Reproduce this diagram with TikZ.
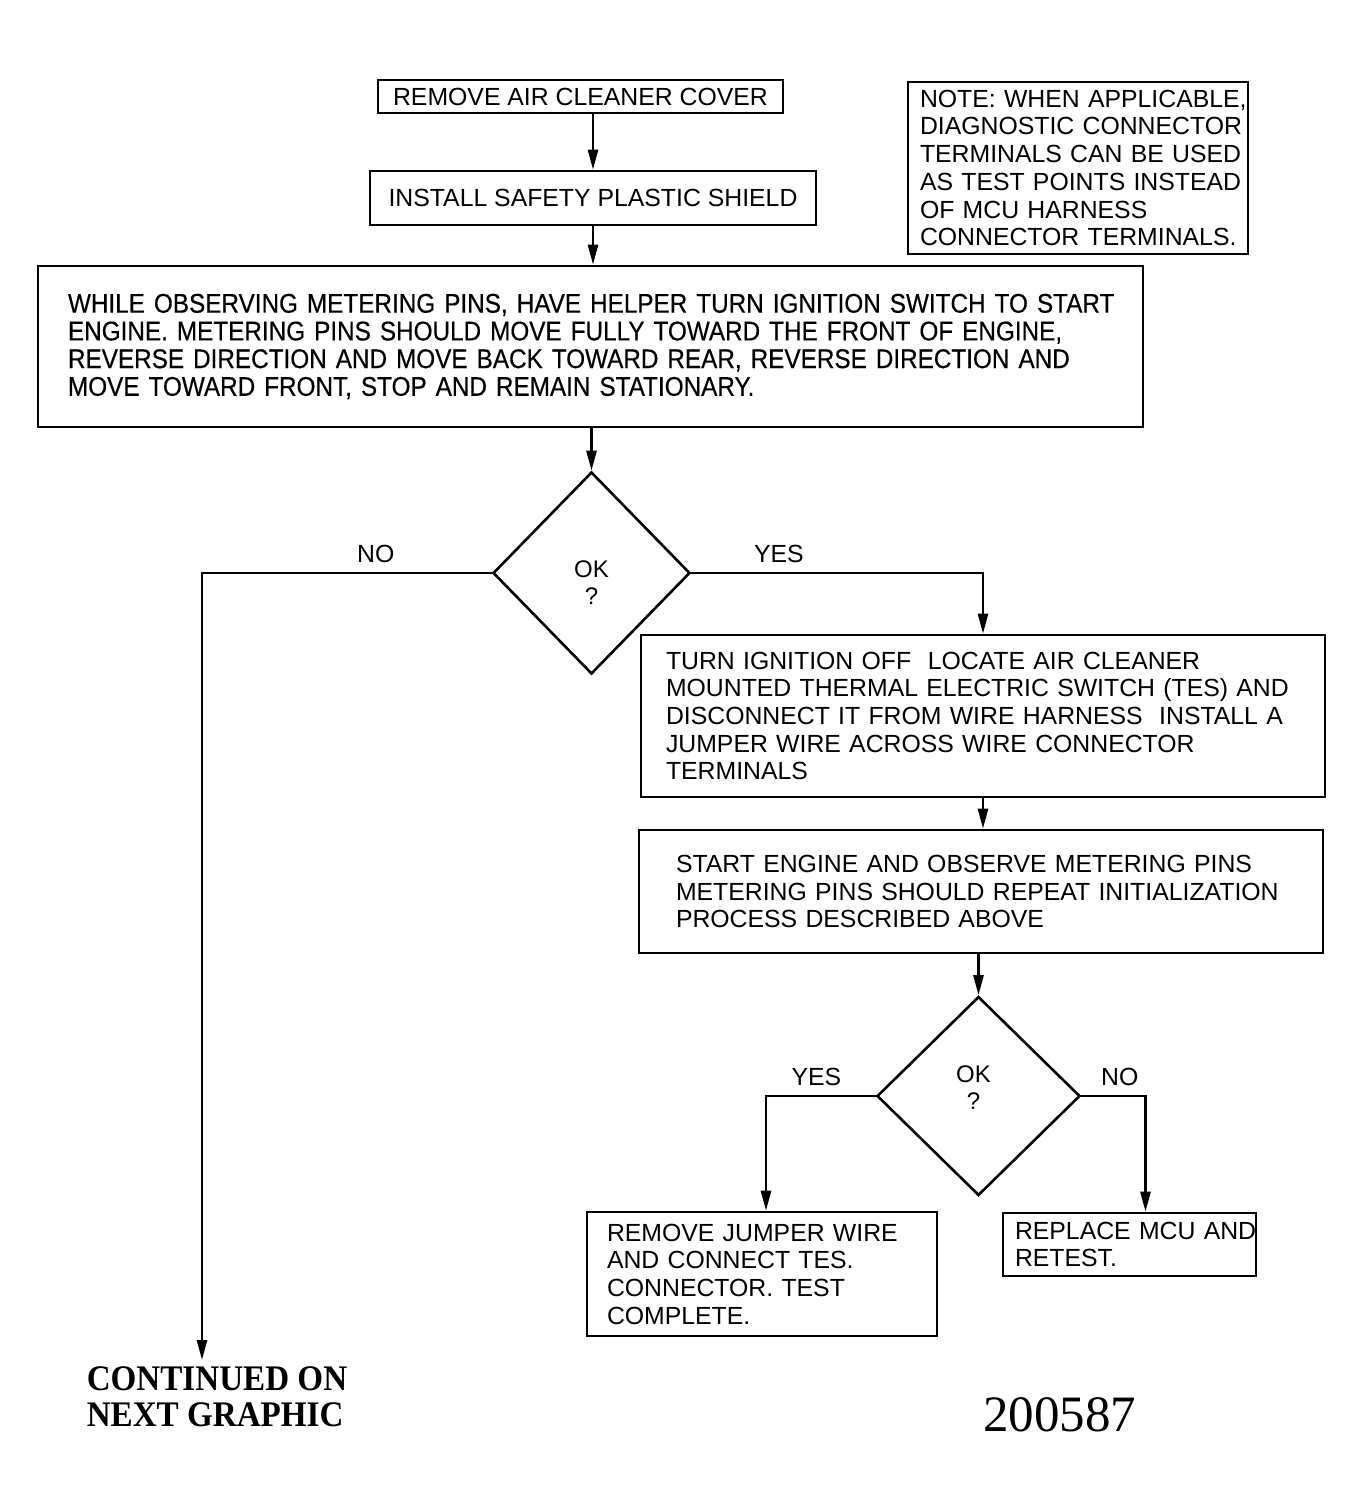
\documentclass[tikz,border=0pt]{standalone}
\usepackage{fontspec}
\setmainfont{Liberation Sans}
\newfontfamily\serifnote{Liberation Serif}
\newfontfamily\serifbold[FakeStretch=0.92]{Liberation Serif Bold}
\newfontfamily\condfont[FakeStretch=0.9,FakeBold=0.4]{Liberation Sans}
\usetikzlibrary{shapes.geometric,arrows.meta}
\newcommand\oktext[1]{\raisebox{#1}[\height][\depth]{\shortstack{OK\\[2pt]?}}}
\begin{document}
\begin{tikzpicture}[x=0.5pt,y=-0.5pt,
  box/.style={draw, line width=1.3pt, rectangle, inner ysep=0pt, align=left,
    font=\fontsize{12.4}{13.85}\selectfont},
  cbox/.style={draw, line width=1.3pt, rectangle, inner sep=0pt, align=center,
    font=\fontsize{12.4}{13.85}\selectfont},
  dec/.style={draw, diamond, line width=1.3pt, inner sep=0pt, align=center,
    font=\fontsize{12}{12.5}\selectfont},
  arr/.style={line width=1.3pt, -{Triangle[length=10pt,width=5pt]}},
  lbl/.style={font=\fontsize{12.4}{13}\selectfont}
]
\useasboundingbox (0,0) rectangle (1364,1506);

\node[cbox, minimum width=202.5pt, minimum height=16.5pt] (b1) at (580.5,96.5) {REMOVE AIR CLEANER COVER};
\node[cbox, minimum width=223pt, minimum height=27pt] (b2) at (593,198) {INSTALL SAFETY PLASTIC SHIELD};

\node[box, font=\condfont\fontsize{13.5}{13.85}\selectfont, minimum height=80.5pt, inner xsep=15pt, text width=522.5pt] (b3) at (590.5,346.5)
{\mbox{WHILE OBSERVING METERING PINS, HAVE HELPER TURN IGNITION SWITCH TO START}\\
\mbox{ENGINE. METERING PINS SHOULD MOVE FULLY TOWARD THE FRONT OF ENGINE,}\\
\mbox{REVERSE DIRECTION AND MOVE BACK TOWARD REAR, REVERSE DIRECTION AND}\\
\mbox{MOVE TOWARD FRONT, STOP AND REMAIN STATIONARY.}};

\node[box, minimum height=86pt, inner xsep=6pt, text width=158pt] (note) at (1078,168)
{\mbox{NOTE: WHEN APPLICABLE,}\\
\mbox{DIAGNOSTIC CONNECTOR}\\
\mbox{TERMINALS CAN BE USED}\\
\mbox{AS TEST POINTS INSTEAD}\\
\mbox{OF MCU HARNESS}\\
\mbox{CONNECTOR TERMINALS.}};

\node[dec, minimum width=98.5pt, minimum height=101pt] (d1) at (591.5,573) {\oktext{-5pt}};

\node[box, minimum height=81pt, inner xsep=12.5pt, text width=317pt] (b4) at (983,716)
{\mbox{TURN IGNITION OFF\ \ LOCATE AIR CLEANER}\\
\mbox{MOUNTED THERMAL ELECTRIC SWITCH (TES) AND}\\
\mbox{DISCONNECT IT FROM WIRE HARNESS\ \ INSTALL A}\\
\mbox{JUMPER WIRE ACROSS WIRE CONNECTOR}\\
\mbox{TERMINALS}};

\node[box, minimum height=61.5pt, inner xsep=18.5pt, text width=305pt] (b5) at (981,891.5)
{\mbox{START ENGINE AND OBSERVE METERING PINS}\\
\mbox{METERING PINS SHOULD REPEAT INITIALIZATION}\\
\mbox{PROCESS DESCRIBED ABOVE}};

\node[dec, minimum width=101.5pt, minimum height=99.5pt] (d2) at (978.5,1096) {\hspace*{-5pt}\oktext{4pt}};

\node[box, minimum height=62pt, inner xsep=10pt, text width=155pt] (b6) at (762,1274)
{\mbox{REMOVE JUMPER WIRE}\\
\mbox{AND CONNECT TES.}\\
\mbox{CONNECTOR. TEST}\\
\mbox{COMPLETE.}};

\node[box, minimum height=31.5pt, inner xsep=6pt, text width=114.5pt] (b7) at (1129.5,1244.5)
{\mbox{REPLACE MCU AND}\\
\mbox{RETEST.}};

\node[font=\serifbold\fontsize{18}{18}\selectfont, align=left, inner sep=0pt] (contnote) at (217,1397)
{CONTINUED ON\\NEXT GRAPHIC};
\node[font=\serifnote\fontsize{25.5}{26}\selectfont, inner sep=0pt] (num) at (1059.5,1415) {200587};

\coordinate (contend) at (202,1360);

\draw[arr] (b1.south -| b2.north) -- (b2.north);
\draw[arr] (b2.south) -- (b2.south |- b3.north);
\draw[arr] (b3.south -| d1.north) -- (d1.north);
\draw[arr] (d1.west) -| node[lbl, pos=0.2, above=1pt] {NO} (contend);
\draw[arr] (d1.east) -| node[lbl, pos=0.15, above=1pt] {YES} (b4.north);
\draw[arr] (b4.south) -- (b4.south |- b5.north);
\draw[arr] (b5.south -| d2.north) -- (d2.north);
\draw[arr] (d2.west) -| node[lbl, pos=0.27, above=1pt] {YES} ([xshift=2pt]b6.north);
\draw[arr] (d2.east) -| node[lbl, pos=0.3, above=1pt] {NO} ([xshift=8pt]b7.north);
\end{tikzpicture}
\end{document}
